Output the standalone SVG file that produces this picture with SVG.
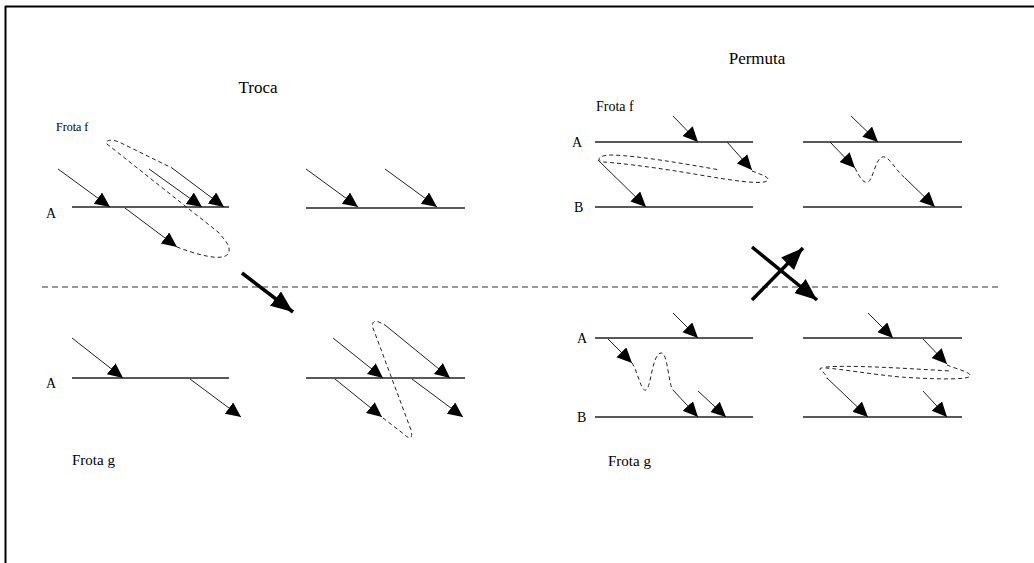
<svg xmlns="http://www.w3.org/2000/svg" width="1034" height="563" viewBox="0 0 1034 563">
<defs>
<style>
.t{font-family:"Liberation Serif","Times New Roman","DejaVu Serif",serif;fill:#000}
.ln{stroke:#222;stroke-width:1.5;fill:none}
.ar{stroke:#222;stroke-width:1;fill:none;marker-end:url(#ah)}
.tk{stroke:#000;stroke-width:3.5;fill:none;marker-end:url(#ahb)}
.ds{stroke:#222;stroke-width:1;fill:none;stroke-dasharray:4,3}
</style>
<marker id="ah" markerUnits="userSpaceOnUse" markerWidth="17" markerHeight="15" refX="15" refY="7" orient="auto">
<path d="M0,0 L15,7 L0,14 Z" fill="#000"/>
</marker>
<marker id="ahb" markerUnits="userSpaceOnUse" markerWidth="24" markerHeight="20" refX="22" refY="9" orient="auto">
<path d="M0,0 L22,9 L0,18 Z" fill="#000"/>
</marker>
</defs>
<rect width="1034" height="563" fill="#fff"/>
<g id="border">
<line x1="5" y1="6.5" x2="1034" y2="6.5" stroke="#000" stroke-width="2"/>
<line x1="5.5" y1="6" x2="5.5" y2="563" stroke="#000" stroke-width="2"/>
</g>
<g id="labels">
<text class="t" font-family="Liberation Serif, serif" x="258" y="93" font-size="17" text-anchor="middle">Troca</text>
<text class="t" font-family="Liberation Serif, serif" x="757" y="64" font-size="17" text-anchor="middle">Permuta</text>
<text class="t" font-family="Liberation Serif, serif" x="56" y="131" font-size="12">Frota f</text>
<text class="t" font-family="Liberation Serif, serif" x="46" y="218" font-size="14">A</text>
<text class="t" font-family="Liberation Serif, serif" x="46" y="388" font-size="14">A</text>
<text class="t" font-family="Liberation Serif, serif" x="72" y="465" font-size="15">Frota g</text>
<text class="t" font-family="Liberation Serif, serif" x="596" y="111" font-size="14">Frota f</text>
<text class="t" font-family="Liberation Serif, serif" x="572" y="147" font-size="14">A</text>
<text class="t" font-family="Liberation Serif, serif" x="574" y="212" font-size="14">B</text>
<text class="t" font-family="Liberation Serif, serif" x="577" y="343" font-size="14">A</text>
<text class="t" font-family="Liberation Serif, serif" x="577" y="422" font-size="14">B</text>
<text class="t" font-family="Liberation Serif, serif" x="608" y="466" font-size="15">Frota g</text>
</g>
<g id="routes">
<line class="ln" x1="72" y1="207" x2="229" y2="207"/>
<line class="ln" x1="306" y1="208" x2="465" y2="208"/>
<line class="ln" x1="72" y1="378" x2="229" y2="378"/>
<line class="ln" x1="306" y1="378" x2="465" y2="378"/>
<line class="ln" x1="595" y1="142" x2="753" y2="142"/>
<line class="ln" x1="595" y1="207" x2="753" y2="207"/>
<line class="ln" x1="803" y1="142" x2="962" y2="142"/>
<line class="ln" x1="803" y1="207" x2="962" y2="207"/>
<line class="ln" x1="595" y1="338" x2="753" y2="338"/>
<line class="ln" x1="595" y1="417" x2="753" y2="417"/>
<line class="ln" x1="803" y1="338" x2="962" y2="338"/>
<line class="ln" x1="803" y1="417" x2="962" y2="417"/>
</g>
<g id="connectors">
<line class="ar" x1="58" y1="169" x2="110" y2="207"/>
<line class="ar" x1="149" y1="169" x2="202" y2="207"/>
<line class="ar" x1="172" y1="168" x2="224" y2="207"/>
<line class="ar" x1="125" y1="208" x2="177" y2="247"/>
<path class="ds" d="M177,247 C195,254 222,262 228,254 C232,247 225,240 218,232 L107,144 C104,140 112,139 119,142 L172,168"/>
<line class="ar" x1="306" y1="169" x2="358" y2="207"/>
<line class="ar" x1="385" y1="169" x2="437" y2="207"/>
<line class="ar" x1="72" y1="338" x2="123" y2="378"/>
<line class="ar" x1="190" y1="379" x2="241" y2="417"/>
<line class="ar" x1="333" y1="338" x2="383" y2="378"/>
<line class="ar" x1="385" y1="325" x2="450" y2="378"/>
<line class="ar" x1="335" y1="379" x2="382" y2="417"/>
<line class="ar" x1="412" y1="379" x2="463" y2="417"/>
<path class="ds" d="M383,418 L405,435 C410,440 413,438 411,430 L373,328 C371,322 375,320 379,322 L385,325"/>
<line class="ar" x1="673" y1="116" x2="698" y2="142"/>
<line class="ar" x1="727" y1="142" x2="752" y2="170"/>
<line class="ar" x1="598" y1="160" x2="646" y2="207"/>
<path class="ds" d="M752,171 C760,174 772,178 767,181 C760,185 730,180 700,175 C660,168 620,163 603,162 C596,160 598,155 612,155 C640,156 680,163 720,170"/>
<line class="ar" x1="851" y1="116" x2="878" y2="142"/>
<line class="ar" x1="830" y1="142" x2="855" y2="168"/>
<path class="ds" d="M855,168 C860,178 864,184 868,182 C873,180 875,160 882,157 C889,155 895,170 905,178"/>
<line class="ar" x1="905" y1="178" x2="935" y2="207"/>
<line class="ar" x1="673" y1="313" x2="698" y2="338"/>
<line class="ar" x1="608" y1="339" x2="632" y2="363"/>
<path class="ds" d="M632,363 C638,372 641,392 646,390 C651,388 652,354 661,353 C668,352 668,384 673,390"/>
<line class="ar" x1="673" y1="390" x2="698" y2="417"/>
<line class="ar" x1="698" y1="391" x2="726" y2="417"/>
<line class="ar" x1="868" y1="313" x2="893" y2="338"/>
<line class="ar" x1="923" y1="339" x2="947" y2="364"/>
<path class="ds" d="M947,365 C956,369 975,373 969,377 C962,380 930,379 900,377 C870,374 840,369 826,368 C818,367 819,370 823,372 C830,380 826,378 827,378"/>
<path class="ds" d="M826,367 C850,365 900,368 950,371"/>
<line class="ar" x1="827" y1="378" x2="868" y2="417"/>
<line class="ar" x1="923" y1="391" x2="947" y2="417"/>
<line x1="42" y1="287" x2="1000" y2="287" stroke="#333" stroke-width="1" stroke-dasharray="6,4"/>
<line class="tk" x1="242" y1="273" x2="293" y2="312"/>
<line class="tk" x1="752" y1="247" x2="817" y2="300"/>
<line class="tk" x1="752" y1="300" x2="803" y2="248"/>
</g>
</svg>
